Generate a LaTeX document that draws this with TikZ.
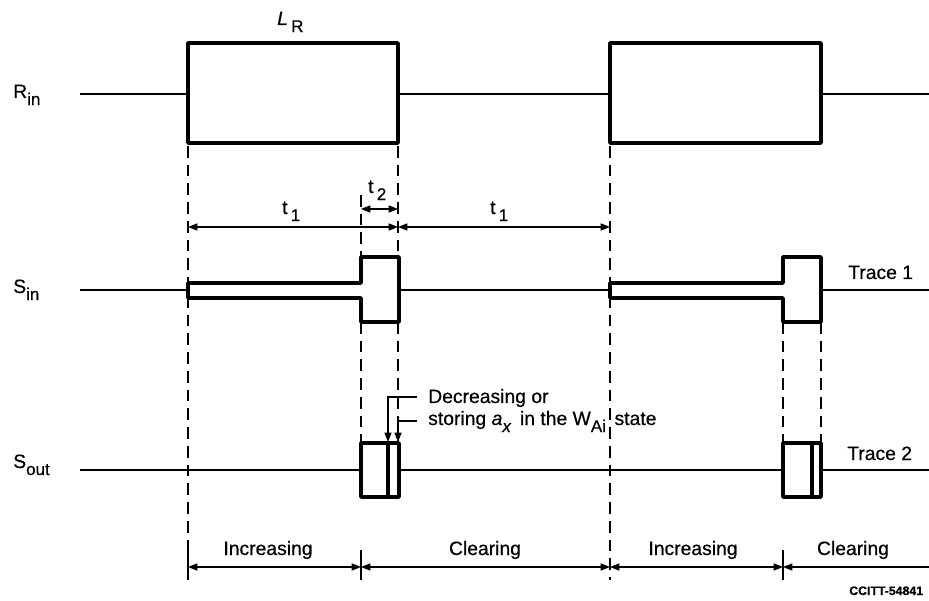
\documentclass[tikz,border=0pt]{standalone}
\usepackage{fontspec}
\setmainfont{Liberation Sans}[FakeBold=0.5]
\usetikzlibrary{arrows.meta}
\newcommand\lowsub[1]{\raisebox{-6pt}{\fontsize{14.5}{15}\selectfont #1}}
\tikzset{
  ttip/.tip={Triangle[length=8pt,width=6pt]},
  sig/.style={line width=1.5pt},
  pulse/.style={line width=3.2pt, line join=round},
  guide/.style={line width=1.1pt, dash pattern=on 10pt off 6pt},
  dim/.style={line width=1.1pt, ttip-ttip},
  lbl/.style={font=\fontsize{16.5}{18}\selectfont, inner sep=0pt, anchor=base west},
  mid/.style={font=\fontsize{16.5}{18}\selectfont, inner sep=0pt, anchor=base}
}
\begin{document}
\begin{tikzpicture}[x=0.03cm, y=-0.03cm]
\useasboundingbox (0,0) rectangle (929,601);

\node[lbl] (rin) at (13,98) {R\lowsub{in}};
\node[lbl] (sin) at (13,293) {S\lowsub{in}};
\node[lbl] (sout) at (13,468) {S\lowsub{out}};
\node[lbl] (lr) at (277,25) {\textit{L}\,\lowsub{R}};

% R_in
\draw[sig] (80,94) -- (188,94) (398,94) -- (610,94) (821,94) -- (929,94);
\draw[pulse] (188,43) rectangle (398,143);
\draw[pulse] (610,43) rectangle (821,143);

% S_in
\draw[sig] (80,290) -- (188,290) (398,290) -- (610,290) (821,290) -- (929,290);
\foreach \a/\b in {188/361, 610/783}
  \draw[pulse] (\a,283) -- (\b,283) -- (\b,257) -- (\b+38,257) -- (\b+38,322)
    -- (\b,322) -- (\b,298) -- (\a,298) -- cycle;
\node[lbl] (tr1) at (848,279) {Trace 1};

% S_out
\draw[sig] (80,470) -- (361,470) (398,470) -- (783,470) (821,470) -- (929,470);
\foreach \a/\b in {361/388, 783/812} {
  \draw[pulse] (\a,443) rectangle (\a+38,497);
  \draw[pulse] (\b,443) -- (\b,497);
}
\node[lbl] (tr2) at (847,460) {Trace 2};

% guides
\draw[guide] (188,146) -- (188,580) (610,146) -- (610,580);
\draw[guide] (398,146) -- (398,257) (398,322) -- (398,443);
\draw[guide] (361,195) -- (361,257) (361,322) -- (361,443);
\draw[guide] (783,322) -- (783,443) (821,322) -- (821,443);

% times
\draw[dim] (188,227) -- (398,227);
\draw[dim] (398,227) -- (610,227);
\draw[dim] (361,209) -- (398,209);
\node[lbl] (ta) at (282,214) {t\,\lowsub{1}};
\node[lbl] (tb) at (368,193) {t\,\lowsub{2}};
\node[lbl] (tc) at (490,214) {t\,\lowsub{1}};

% leader
\node[lbl] (dec) at (428,403) {Decreasing or};
\node[lbl] (sto) at (428,425) {storing \textit{a}\lowsub{\textit{x}}\, in the W\lowsub{Ai}\, state};
\draw[line width=1.1pt, -ttip] (417,397) -- (388,397) -- (388,442);
\draw[line width=1.1pt, -ttip] (417,421) -- (398,421) -- (398,442);

% phases
\draw[line width=1.3pt] (188,550) -- (188,580) (361,550) -- (361,580) (783,550) -- (783,580);
\draw[dim] (188,567) -- (361,567);
\draw[dim] (361,567) -- (610,567);
\draw[dim] (610,567) -- (783,567);
\draw[line width=1.1pt, ttip-] (783,567) -- (929,567);
\node[mid] (inc1) at (268,555) {Increasing};
\node[mid] (clr1) at (485,555) {Clearing};
\node[mid] (inc2) at (693,555) {Increasing};
\node[mid] (clr2) at (853,555) {Clearing};
\node[lbl, font=\fontsize{10.5}{12}\selectfont\bfseries] (ref) at (849,595) {CCITT-54841};
\end{tikzpicture}
\end{document}
